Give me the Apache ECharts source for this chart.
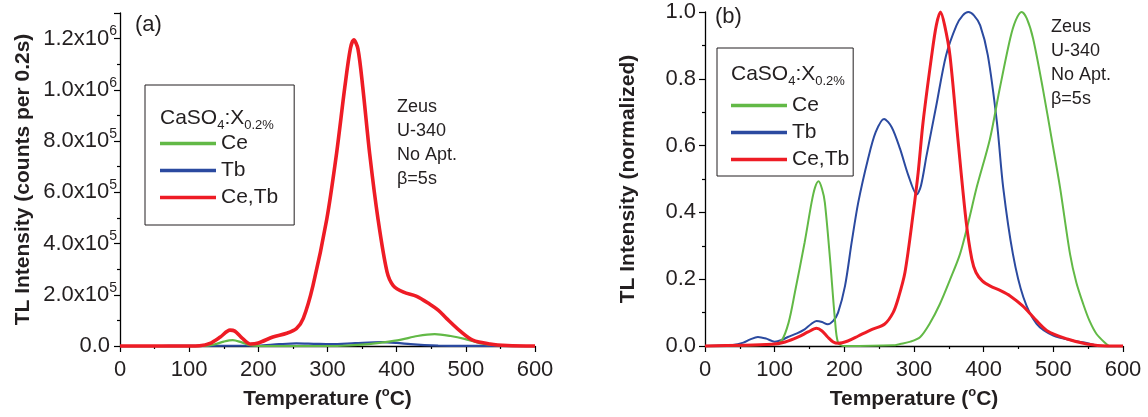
<!DOCTYPE html>
<html><head><meta charset="utf-8">
<script src="https://cdn.jsdelivr.net/npm/echarts@6/dist/echarts.min.js"></script>
<style>html,body{margin:0;padding:0;background:#fff}#c{width:1148px;height:417px}</style>
</head><body><div id="c"></div>
<script>
// ---------- DATA ----------
// Panel (a): absolute TL intensity (counts per 0.2 s) vs temperature (°C)
const ceA = [[0,0],[120,0],[135,5000],[150,17000],[163,23000],[175,15000],[188,3000],[200,0],[300,0],[330,2000],[355,6000],[380,14000],[405,24000],[430,39000],[455,46000],[478,39000],[498,28000],[520,11000],[540,4000],[565,800],[600,0]];
const tbA = [[0,0],[60,0],[80,400],[100,200],[150,1000],[175,1000],[200,2000],[230,7000],[255,10000],[280,8500],[305,7000],[340,11000],[378,15000],[400,12000],[420,7000],[440,3500],[460,1500],[500,400],[560,0],[600,0]];
const cetbA = [[0,0],[100,0],[115,1000],[130,10000],[145,35000],[159,62000],[166,58000],[175,35000],[188,8000],[200,12000],[221,35000],[241,50000],[255,68000],[265,108000],[279,236000],[299,496000],[313,750000],[325,1010000],[333,1160000],[338,1195000],[344,1160000],[351,1010000],[361,750000],[373,496000],[386,290000],[395,236000],[410,210000],[429,194000],[448,163000],[460,140000],[472,108000],[492,58000],[510,23000],[535,8000],[560,2000],[600,0]];
// Panel (b): normalized TL intensity
const ceB = [[0,0],[100,0.005],[110,0.016],[120,0.07],[129,0.16],[143,0.31],[153,0.43],[158,0.475],[163,0.493],[168,0.47],[172,0.43],[179.5,0.26],[186.5,0.08],[191,0.01],[200,0],[270,0.002],[280,0.006],[295,0.013],[309,0.027],[322,0.065],[337,0.125],[352,0.2],[366,0.275],[378,0.37],[390,0.475],[409,0.62],[423,0.77],[438,0.92],[446,0.975],[454.5,1.0],[462,0.98],[471,0.92],[485,0.77],[497.6,0.62],[509.6,0.475],[524,0.275],[533,0.19],[543,0.125],[552,0.075],[562,0.036],[576,0.006],[580,0]];
const tbB = [[0,0],[40,0.003],[55,0.01],[65,0.02],[76,0.027],[88,0.022],[100,0.013],[110,0.018],[119,0.027],[132,0.038],[143,0.05],[152,0.065],[160,0.075],[168,0.072],[176,0.065],[184,0.075],[191,0.1],[201,0.18],[210.5,0.31],[220,0.43],[234,0.56],[245,0.64],[257,0.68],[268,0.655],[280,0.59],[292,0.51],[304,0.454],[310,0.48],[318,0.57],[332,0.72],[346,0.87],[361,0.96],[370,0.99],[378,1.0],[386,0.99],[395,0.96],[406,0.87],[419,0.67],[428,0.475],[442,0.275],[457,0.146],[476,0.066],[500,0.031],[528,0.016],[548,0.009],[558,0.004]];
const cetbB = [[0,0],[96,0.005],[115,0.012],[134,0.027],[148,0.042],[160,0.053],[168,0.045],[176,0.027],[184,0.012],[191,0.008],[205,0.015],[220,0.03],[239,0.049],[258,0.066],[270,0.1],[277,0.14],[287,0.22],[299,0.4],[306,0.52],[313,0.67],[325.4,0.87],[332,0.96],[338,1.0],[344,0.96],[351.6,0.87],[363,0.62],[375,0.37],[383,0.26],[389,0.22],[398,0.195],[409,0.18],[425,0.165],[438,0.15],[456,0.12],[471,0.087],[491,0.046],[520,0.021],[548,0.006],[577,0],[600,0]];
// tick labels of panel (a) y axis (mantissa, exponent), one per 2x10^5
const yTickMantA = ['0.0','2.0','4.0','6.0','8.0','1.0','1.2'];
const yTickExpA  = ['','5','5','5','5','6','6'];
const seriesNames = ['Ce','Tb','Ce,Tb'];
const notes = ['Zeus','U-340','No Apt.','β=5s'];

// ---------- STYLE ----------
const FONT = '"Liberation Sans", Arial, sans-serif';
const TXT = '#231f20';
const GREEN = '#62b946', BLUE = '#2b4aa0', RED = '#ee1c25';

const chart = echarts.init(document.getElementById('c'), null, {renderer:'canvas'});

function xAxis(gi){
  return {
    type:'value', gridIndex:gi, min:0, max:600, interval:100,
    name:'Temperature ({sup|o}C)', nameLocation:'middle', nameGap:40,
    nameTextStyle:{fontFamily:FONT, fontSize:21, fontWeight:'bold', color:TXT, lineHeight:26,
      rich:{sup:{fontFamily:FONT, fontSize:13, fontWeight:'bold', color:TXT, verticalAlign:'top'}}},
    axisLine:{show:true, onZero:false, lineStyle:{color:'#000', width:1.3}},
    axisTick:{show:true, inside:false, length:6, lineStyle:{color:'#000', width:1.2}},
    minorTick:{show:true, splitNumber:2, length:3, lineStyle:{color:'#000', width:1.2}},
    splitLine:{show:false},
    axisLabel:{fontFamily:FONT, fontSize:22, color:TXT, margin:13}
  };
}

function legend(left, top, padding){
  return {left:left, top:top, orient:'vertical', padding:padding, itemGap:6,
    itemWidth:56, itemHeight:3.5, icon:'rect', selectedMode:false,
    borderColor:'#231f20', borderWidth:1,
    textStyle:{fontFamily:FONT, fontSize:21, color:TXT},
    data:seriesNames};
}

const titleRich = {m:{fontFamily:FONT, fontSize:21, color:TXT, lineHeight:26},
                   s:{fontFamily:FONT, fontSize:13, color:TXT, verticalAlign:'bottom'}};

const option = {
  animation:false,
  grid:[
    {left:120, top:13, width:415, height:335, containLabel:false},
    {left:705, top:12, width:418, height:335, containLabel:false}
  ],
  xAxis:[xAxis(0), xAxis(1)],
  yAxis:[
    {type:'value', gridIndex:0, min:0, max:1300000, interval:200000,
      name:'TL Intensity (counts per 0.2s)', nameLocation:'middle', nameGap:86,
      nameTextStyle:{fontFamily:FONT, fontSize:21, fontWeight:'bold', color:TXT},
      axisLine:{show:true, lineStyle:{color:'#000', width:1.3}},
      axisTick:{show:true, length:6, lineStyle:{color:'#000', width:1.2}},
      minorTick:{show:true, splitNumber:2, length:3, lineStyle:{color:'#000', width:1.2}},
      splitLine:{show:false},
      axisLabel:{margin:3, showMaxLabel:false,
        formatter:function(v){
          const i = Math.round(v/200000);
          if (Math.abs(i*200000 - v) > 1 || i >= yTickMantA.length) return '';
          if (yTickExpA[i] === '') return '{z|' + yTickMantA[i] + '}';
          return '{b|' + yTickMantA[i] + 'x10}{s|' + yTickExpA[i] + '}';
        },
        rich:{
          b:{fontFamily:FONT, fontSize:22, color:TXT, lineHeight:28},
          z:{fontFamily:FONT, fontSize:22, color:TXT, lineHeight:28, padding:[0,7,0,0]},
          s:{fontFamily:FONT, fontSize:14, color:TXT, verticalAlign:'top'}
        }}
    },
    {type:'value', gridIndex:1, min:0, max:1.0, interval:0.2,
      name:'TL Intensity (normalized)', nameLocation:'middle', nameGap:66,
      nameTextStyle:{fontFamily:FONT, fontSize:21, fontWeight:'bold', color:TXT},
      axisLine:{show:true, lineStyle:{color:'#000', width:1.3}},
      axisTick:{show:true, length:6, lineStyle:{color:'#000', width:1.2}},
      minorTick:{show:true, splitNumber:2, length:3, lineStyle:{color:'#000', width:1.2}},
      splitLine:{show:false},
      axisLabel:{fontFamily:FONT, fontSize:22, color:TXT, margin:9,
        formatter:function(v){return v.toFixed(1);}}
    }
  ],
  legend:[
    legend(145, 85, [48,16,17,15]),
    legend(717, 48, [47,4,6,14])
  ],
  graphic:[
    {type:'text', left:135, top:14, style:{text:'(a)', font:'22px '+FONT, fill:TXT}},
    {type:'text', left:715, top:6, style:{text:'(b)', font:'22px '+FONT, fill:TXT}},
    {type:'text', left:160, top:108, style:{text:'{m|CaSO}{s|4}{m|:X}{s|0.2%}', fill:TXT, rich:titleRich}},
    {type:'text', left:731, top:64, style:{text:'{m|CaSO}{s|4}{m|:X}{s|0.2%}', fill:TXT, rich:titleRich}},
    {type:'text', left:397, top:95, style:{text:notes.join('\n'), font:'18px '+FONT, fill:TXT, lineHeight:24}},
    {type:'text', left:1051, top:15, style:{text:notes.join('\n'), font:'18px '+FONT, fill:TXT, lineHeight:24}}
  ],
  series:[
    {name:'Tb', type:'line', xAxisIndex:0, yAxisIndex:0, data:tbA, color:BLUE, lineStyle:{color:BLUE, width:2.2}},
    {name:'Ce', type:'line', xAxisIndex:0, yAxisIndex:0, data:ceA, color:GREEN, lineStyle:{color:GREEN, width:2.2}},
    {name:'Ce,Tb', type:'line', xAxisIndex:0, yAxisIndex:0, data:cetbA, color:RED, lineStyle:{color:RED, width:3.6}},
    {name:'Tb', type:'line', xAxisIndex:1, yAxisIndex:1, data:tbB, color:BLUE, lineStyle:{color:BLUE, width:2}},
    {name:'Ce', type:'line', xAxisIndex:1, yAxisIndex:1, data:ceB, color:GREEN, lineStyle:{color:GREEN, width:2}},
    {name:'Ce,Tb', type:'line', xAxisIndex:1, yAxisIndex:1, data:cetbB, color:RED, lineStyle:{color:RED, width:3}}
  ].map(s => Object.assign(s, {symbol:'none', showSymbol:false, smooth:0.3, clip:false, z:2}))
};
chart.setOption(option);
</script></body></html>
